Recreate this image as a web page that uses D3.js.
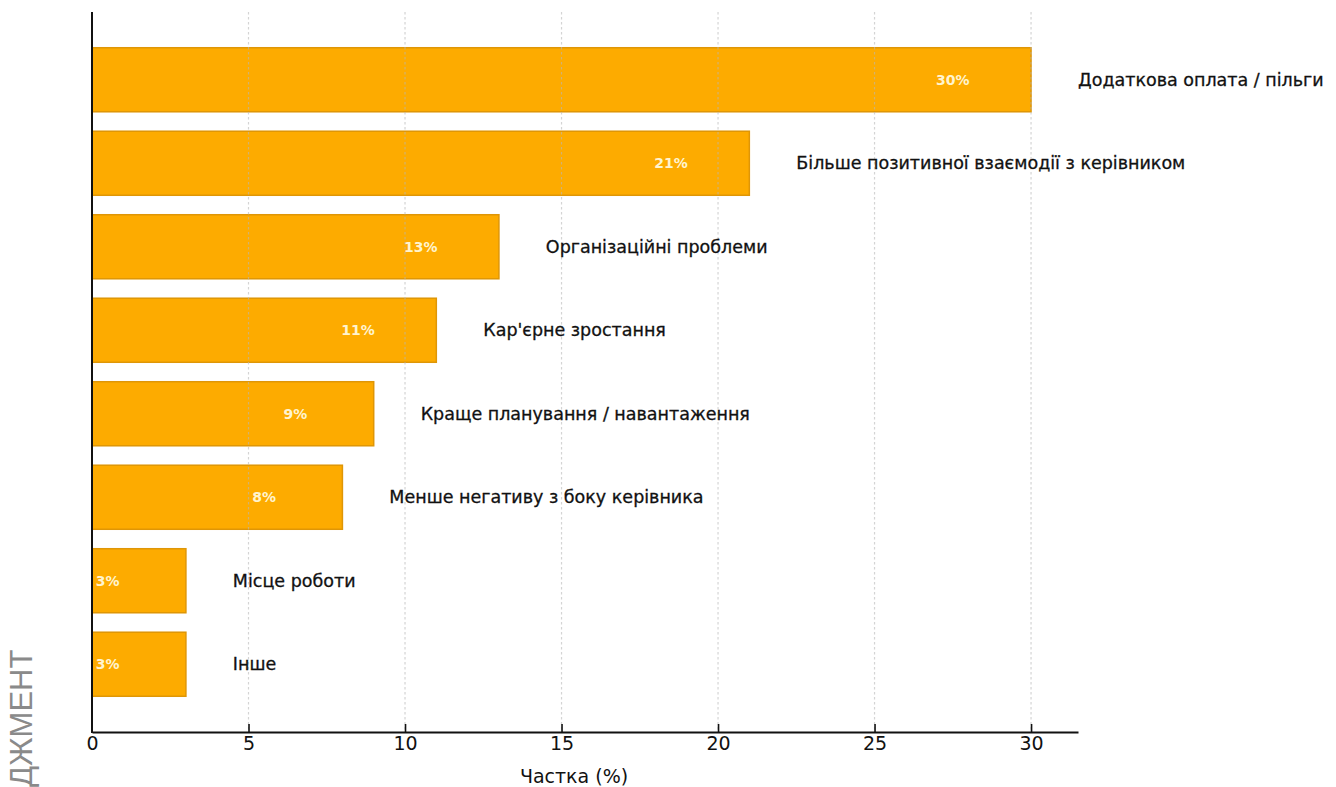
<!DOCTYPE html>
<html>
<head>
<meta charset="utf-8">
<script src="https://cdn.jsdelivr.net/npm/d3@7"></script>
<style>
  html, body { margin: 0; padding: 0; background: #fff; }
  svg { display: block; }
</style>
</head>
<body>
<svg id="chart" width="1336" height="787"></svg>
<script>
// Reasons (top to bottom) and their shares in percent
const categories = [
  "Додаткова оплата / пільги",
  "Більше позитивної взаємодії з керівником",
  "Організаційні проблеми",
  "Кар'єрне зростання",
  "Краще планування / навантаження",
  "Менше негативу з боку керівника",
  "Місце роботи",
  "Інше"
];
const shares = [30, 21, 13, 11, 9, 8, 3, 3];
const xTicks = [0, 5, 10, 15, 20, 25, 30];
const xTitle = "Частка (%)";
const sideText = "ДЖМЕНТ";

(function draw() {
  const data = categories.map((c, i) => ({ name: c, value: shares[i] }));

  const svg = d3.select("#chart");
  const plotLeft = 92, plotRight = 1078, plotTop = 12, plotBottom = 732;
  const font = "'DejaVu Sans', sans-serif";

  const x = d3.scaleLinear().domain([0, 31.5]).range([plotLeft, plotRight]);
  const y = d3.scaleBand()
    .domain(categories)
    .range([plotTop, plotBottom])
    .paddingInner(0.233)
    .paddingOuter(0.428);

  // Bars
  svg.append("g")
    .selectAll("rect")
    .data(data)
    .join("rect")
    .attr("x", x(0))
    .attr("y", d => y(d.name))
    .attr("width", d => x(d.value) - x(0))
    .attr("height", y.bandwidth())
    .attr("fill", "#fdab00")
    .attr("stroke", "#df9606")
    .attr("stroke-width", 1.5);

  // Vertical dotted grid, drawn over the bars
  svg.append("g")
    .selectAll("line")
    .data(xTicks.filter(t => t > 0))
    .join("line")
    .attr("x1", d => x(d)).attr("x2", d => x(d))
    .attr("y1", plotTop).attr("y2", plotBottom)
    .attr("stroke", "#b8b8b8")
    .attr("stroke-opacity", 0.6)
    .attr("stroke-width", 1.2)
    .attr("stroke-dasharray", "2.5,2.5");

  // Value labels inside the bars
  svg.append("g")
    .selectAll("text")
    .data(data)
    .join("text")
    .attr("x", d => x(d.value - 2.5))
    .attr("y", d => y(d.name) + y.bandwidth() / 2)
    .attr("dy", "0.35em")
    .attr("text-anchor", "middle")
    .attr("font-family", font)
    .attr("font-weight", "bold")
    .attr("font-size", 14)
    .attr("fill", "#fff4cf")
    .text(d => d.value + "%");

  // Category labels to the right of each bar
  svg.append("g")
    .selectAll("text")
    .data(data)
    .join("text")
    .attr("x", d => x(d.value + 1.5))
    .attr("y", d => y(d.name) + y.bandwidth() / 2)
    .attr("dy", "0.35em")
    .attr("font-family", font)
    .attr("font-size", 17.5)
    .attr("fill", "#111")
    .attr("stroke", "#111")
    .attr("stroke-width", 0.3)
    .text(d => d.name);

  // Bottom axis with inward ticks
  const xAxis = svg.append("g")
    .attr("transform", `translate(0,${plotBottom})`)
    .call(d3.axisBottom(x).tickValues(xTicks).tickSize(-8).tickSizeOuter(0).tickPadding(12));
  xAxis.select(".domain").attr("stroke", "#111").attr("stroke-width", 2);
  xAxis.selectAll(".tick line").attr("stroke", "#111").attr("stroke-width", 1.6);
  xAxis.selectAll(".tick").filter(d => d === 0).select("line").remove();
  xAxis.selectAll(".tick text")
    .attr("font-family", font)
    .attr("font-size", 19)
    .attr("fill", "#111")
    .attr("dy", "0.3em");

  // Left spine
  svg.append("line")
    .attr("x1", plotLeft).attr("x2", plotLeft)
    .attr("y1", plotTop).attr("y2", plotBottom + 1)
    .attr("stroke", "#111")
    .attr("stroke-width", 2);

  // Axis title
  svg.append("text")
    .attr("x", x(15.4))
    .attr("y", 776)
    .attr("dy", "0.35em")
    .attr("text-anchor", "middle")
    .attr("font-family", font)
    .attr("font-size", 19)
    .attr("fill", "#111")
    .text(xTitle);

  // Vertical side caption
  svg.append("text")
    .attr("transform", "translate(32,787) rotate(-90)")
    .attr("font-family", "'Liberation Sans', Arial, sans-serif")
    .attr("font-size", 31)
    .attr("fill", "#8a8a8a")
    .text(sideText);
})();
</script>
</body>
</html>
